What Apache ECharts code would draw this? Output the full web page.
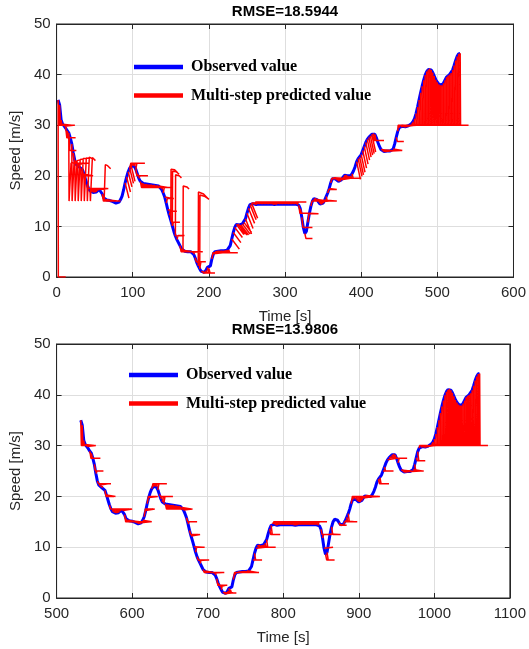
<!DOCTYPE html>
<html><head><meta charset="utf-8">
<script src="https://cdn.jsdelivr.net/npm/echarts@6/dist/echarts.min.js"></script>
<style>html,body{margin:0;padding:0;background:#fff}#c{width:529px;height:649px}</style>
</head><body><div id="c"></div>
<script>
// ---- data ----
const sampleStart = 2, sampleStep = 2; // observed samples every 2 s starting at t = 2 s
const observedSpeed = [
  35.0, 34.0, 31.0, 30.2, 29.8, 29.4, 28.9, 28.5, 27.5, 26.3,
  24.5, 23.0, 22.2, 21.9, 21.7, 21.5, 21.2, 20.3, 19.3, 18.3,
  17.5, 17.0, 16.8, 16.7, 16.7, 16.8, 17.1, 17.3, 17.2, 16.4,
  15.6, 15.3, 15.2, 15.2, 15.1, 15.0, 14.9, 14.8, 14.6, 14.6,
  14.8, 15.3, 16.0, 17.2, 18.6, 19.8, 20.8, 21.5, 21.9, 22.0,
  21.9, 21.3, 20.4, 19.5, 18.9, 18.6, 18.5, 18.4, 18.4, 18.3,
  18.3, 18.3, 18.2, 18.2, 18.1, 18.1, 18.0, 17.8, 17.3, 16.6,
  15.8, 14.6, 13.3, 12.2, 11.2, 10.1, 9.0, 8.1, 7.4, 6.8,
  6.2, 5.6, 5.3, 5.1, 5.0, 5.0, 5.0, 5.0, 4.9, 4.5,
  3.8, 2.9, 2.2, 1.6, 1.1, 0.8, 0.9, 1.3, 1.9, 1.7,
  2.2, 3.6, 4.6, 5.0, 5.1, 5.1, 5.1, 5.2, 5.2, 5.2,
  5.3, 5.3, 5.4, 6.2, 7.5, 8.8, 9.8, 10.4, 10.5, 10.3,
  10.3, 10.5, 10.8, 11.5, 12.6, 13.6, 14.3, 14.6, 14.5, 14.3,
  14.3, 14.4, 14.4, 14.4, 14.4, 14.4, 14.4, 14.4, 14.4, 14.4,
  14.4, 14.3, 14.3, 14.3, 14.4, 14.4, 14.4, 14.4, 14.4, 14.4,
  14.4, 14.4, 14.4, 14.4, 14.4, 14.4, 14.4, 14.3, 14.2, 13.5,
  11.8, 9.8, 8.6, 9.0, 10.8, 12.6, 14.0, 15.0, 15.5, 15.6,
  15.3, 14.8, 14.4, 14.3, 14.6, 15.2, 15.9, 16.6, 17.5, 18.6,
  19.4, 19.6, 19.4, 19.1, 18.9, 18.9, 19.2, 19.7, 20.1, 20.2,
  20.0, 19.9, 20.0, 20.4, 21.0, 21.8, 22.8, 23.4, 23.7, 24.2,
  25.0, 25.8, 26.6, 27.2, 27.6, 27.9, 28.2, 28.4, 28.2, 27.5,
  26.6, 25.8, 25.2, 24.9, 24.8, 24.8, 24.9, 24.9, 24.9, 24.9,
  25.3, 26.3, 27.6, 28.8, 29.5, 29.7, 29.8, 29.7, 29.7, 29.8,
  29.9, 30.0, 30.3, 30.7, 31.3, 32.3, 33.6, 35.0, 36.4, 37.7,
  38.9, 39.9, 40.6, 41.0, 41.2, 40.9, 40.4, 39.7, 39.0, 38.5,
  38.1, 37.9, 37.9, 38.3, 38.9, 39.5, 39.8, 40.0, 40.3, 40.9,
  41.8, 42.8, 43.6, 44.1, 44.2
];
const runOffsets = [0, 530];             // second run is the same route, 530 s later
const rmseTitles = ['RMSE=18.5944', 'RMSE=13.9806'];
const xRanges = [[0, 600], [500, 1100]];
const xInterval = 100;
const yRange = [0, 50];
const yInterval = 10;
const seriesNames = ['Observed value', 'Multi-step predicted value'];

// predicted fans: [first start time, last start time, predicted level, horizon (s), step to level (s)]
const topFlags = [
  [2, 12, 30, 12, 1], [12, 14, 27.5, 11, 1.5], [16, 16, 25, 10, 1.5], [22, 30, 22.5, 13, 1.5],
  [34, 36, 20, 12, 1.5], [40, 56, 17.5, 12, 1.5], [60, 72, 15, 12, 1.5], [96, 104, 22.5, 12, 1.5],
  [104, 108, 20, 12, 1.5], [110, 140, 17.7, 12, 1.5], [142, 144, 15.5, 10, 1.5], [146, 148, 13, 10, 1.5],
  [150, 152, 10.8, 10, 1.5], [156, 158, 8.2, 10, 1.5], [162, 180, 5, 12, 1.5], [182, 188, 3, 8, 1.5],
  [190, 200, 0.8, 8, 1.5], [204, 226, 4.8, 12, 1.5], [256, 316, 14.8, 12, 1.5], [318, 320, 12.6, 12, 1.5],
  [322, 324, 9.8, 12, 1.5], [326, 326, 7.6, 10, 1.5], [330, 332, 12.5, 12, 1.5], [334, 354, 15, 14, 1.5],
  [356, 358, 17.3, 10, 1.5], [360, 388, 19.5, 12, 1.5], [414, 418, 27, 12, 1.5], [426, 442, 25, 12, 1.5],
  [446, 446, 26.8, 10, 1.5], [448, 530, 30, 11, 0.5]
];
const bottomFlags = [
  [532, 540, 30, 12, 0.8], [544, 546, 27.5, 12, 1.5], [550, 552, 25, 10, 1.5], [554, 560, 22.5, 12, 1.5],
  [564, 566, 20, 12, 1.5], [570, 588, 17.5, 12, 1.5], [590, 614, 15, 12, 1.5], [616, 618, 17.5, 12, 1.5],
  [620, 622, 20, 12, 1.5], [626, 634, 22.5, 12, 1.5], [636, 642, 20, 12, 1.5], [644, 668, 17.5, 12, 1.5],
  [672, 674, 15, 12, 1.5], [676, 678, 12.5, 12, 1.5], [682, 684, 10, 12, 1.5], [686, 690, 7.5, 12, 1.5],
  [694, 710, 5, 12, 1.5], [712, 718, 2.5, 8, 1.5], [720, 730, 1, 8, 1.5], [734, 756, 5, 12, 1.5],
  [760, 762, 7.5, 10, 1.5], [764, 778, 10, 12, 1.5], [782, 784, 12.5, 12, 1.5], [786, 846, 15, 12, 1.5],
  [850, 852, 12.5, 12, 1.5], [854, 854, 10, 12, 1.5], [856, 858, 7.5, 10, 1.5], [862, 864, 12.5, 12, 1.5],
  [874, 876, 14.3, 8, 1.5], [880, 886, 15, 12, 1.5], [890, 914, 20, 14, 1.5], [926, 928, 22.5, 12, 1.5],
  [932, 934, 25, 12, 1.5], [938, 952, 27.5, 12, 1.5], [956, 974, 25, 12, 1.5], [976, 978, 27, 10, 1.5],
  [980, 1060, 30, 11, 0.5]
];
// slanted fans: [first start time, last start time, drop (m/s), horizon (s)]
const topSlantFans = [[90, 98, 3, 5], [230, 246, 2, 10], [248, 256, 3, 8], [394, 414, 3.5, 5]];
// individual erratic predictions in the first run: [time, speed] points
const topSpikes = [
  [[2, 35], [2.3, 0], [12, 0]],
  [[16, 28.5], [16.4, 15], [19, 22.5], [24, 22.6]],
  [[20, 26.3], [20.4, 15], [23, 22.8], [28, 22.9]],
  [[24, 23.0], [24.4, 15], [27, 23.0], [32, 23.2]],
  [[28, 21.9], [28.4, 15], [31, 23.2], [36, 23.3]],
  [[32, 21.5], [32.4, 15], [35, 23.4], [40, 23.4]],
  [[36, 20.3], [36.4, 15], [39, 23.5], [44, 23.4]],
  [[40, 18.3], [40.4, 15], [43, 23.7], [48, 23.3]],
  [[44, 17.0], [44.4, 15], [47, 23.6], [51, 23.0]],
  [[62, 15.6], [62.4, 15], [64, 22.2], [67, 22.0], [71, 21.4]],
  [[150, 11.2], [150.3, 21.3], [152, 21.6], [155, 21.2], [159, 20.6]],
  [[152, 10.1], [152.3, 20.9], [154, 21.1], [157, 20.8], [161, 20.3]],
  [[156, 8.1], [156.3, 20.2], [158, 20.4], [161, 20.0], [164, 19.6]],
  [[166, 5.3], [166.3, 18.0], [168, 18.2], [171, 17.8], [174, 17.4]],
  [[186, 2.2], [186.3, 16.8], [188, 17.0], [193, 16.4], [200, 15.3]],
  [[188, 1.6], [188.3, 16.2], [190, 16.4], [195, 15.9], [200, 15.4]]
];

// ---- build ----
function observedPairs(offset) {
  return observedSpeed.map((v, i) => [sampleStart + i * sampleStep + offset, v]);
}
function predictedPairs(offset, flags, slants, spikes) {
  const obs = observedPairs(offset);
  const out = [];
  flags.forEach(([t0, t1, level, horizon, ramp]) => {
    obs.forEach(([t, v]) => {
      if (t >= t0 && t <= t1) {
        out.push([t, v], [t + ramp, level], [t + horizon, level], [null, null]);
      }
    });
  });
  slants.forEach(([t0, t1, drop, horizon]) => {
    obs.forEach(([t, v]) => {
      if (t >= t0 && t <= t1) out.push([t, v], [t + horizon, v - drop], [null, null]);
    });
  });
  spikes.forEach(line => { line.forEach(p => out.push(p)); out.push([null, null]); });
  return out;
}

const chart = echarts.init(document.getElementById('c'), null, {renderer: 'canvas'});
const gridRects = [
  {left: 54, top: 24, width: 461, height: 253},
  {left: 55, top: 344, width: 460, height: 254}
];
const axisColor = '#262626';
const sansFont = 'Liberation Sans, Arial, sans-serif';
const tickFont = {fontFamily: sansFont, fontSize: 15, color: axisColor, formatter: v => String(v)};

const xAxes = [], yAxes = [];
gridRects.forEach((g, k) => {
  xAxes.push({
    gridIndex: k, type: 'value', min: xRanges[k][0], max: xRanges[k][1], interval: xInterval,
    name: 'Time [s]', nameLocation: 'middle', nameGap: 32,
    nameTextStyle: {fontFamily: sansFont, fontSize: 15, color: axisColor},
    axisLine: {show: true, onZero: false, lineStyle: {color: axisColor, width: 1}},
    axisTick: {show: true, inside: true, length: 5, lineStyle: {color: axisColor}},
    axisLabel: Object.assign({margin: 8, showMaxLabel: true, showMinLabel: true}, tickFont),
    splitLine: {show: true, lineStyle: {color: '#dedede', width: 1}}
  });
  yAxes.push({
    gridIndex: k, type: 'value', min: yRange[0], max: yRange[1], interval: yInterval,
    name: 'Speed [m/s]', nameLocation: 'middle', nameGap: 28, nameRotate: 90,
    nameTextStyle: {fontFamily: sansFont, fontSize: 15, color: axisColor},
    axisLine: {show: true, onZero: false, lineStyle: {color: axisColor, width: 1}},
    axisTick: {show: true, inside: true, length: 5, lineStyle: {color: axisColor}},
    axisLabel: Object.assign({margin: 6}, tickFont),
    splitLine: {show: true, lineStyle: {color: '#dedede', width: 1}}
  });
});
gridRects.forEach((g, k) => {
  xAxes.push({
    gridIndex: k, type: 'value', position: 'top', min: xRanges[k][0], max: xRanges[k][1], interval: xInterval,
    axisLine: {show: true, onZero: false, lineStyle: {color: axisColor}},
    axisTick: {show: true, inside: true, length: 5, lineStyle: {color: axisColor}},
    axisLabel: {show: false}, splitLine: {show: false}
  });
  yAxes.push({
    gridIndex: k, type: 'value', position: 'right', min: yRange[0], max: yRange[1], interval: yInterval,
    axisLine: {show: true, onZero: false, lineStyle: {color: axisColor}},
    axisTick: {show: true, inside: true, length: 5, lineStyle: {color: axisColor}},
    axisLabel: {show: false}, splitLine: {show: false}
  });
});

const series = [];
const predictedSets = [
  predictedPairs(runOffsets[0], topFlags, topSlantFans, topSpikes),
  predictedPairs(runOffsets[1], bottomFlags, [], [])
];
gridRects.forEach((g, k) => {
  series.push({
    name: seriesNames[0], type: 'line', xAxisIndex: k, yAxisIndex: k,
    data: observedPairs(runOffsets[k]), symbol: 'none', showSymbol: false,
    lineStyle: {color: '#0000ff', width: 3}, itemStyle: {color: '#0000ff'}, z: 2, animation: false
  });
  series.push({
    name: seriesNames[1], type: 'line', xAxisIndex: k, yAxisIndex: k,
    data: predictedSets[k], symbol: 'none', showSymbol: false, connectNulls: false,
    lineStyle: {color: '#ff0000', width: 1.5}, itemStyle: {color: '#ff0000'}, z: 3, animation: false
  });
});

const legendText = {fontFamily: 'Liberation Serif, Times New Roman, serif', fontWeight: 'bold', fontSize: 16, color: '#000', padding: [0, 0, 0, 3]};
const legends = [
  {left: 134, top: 59},
  {left: 129, top: 367}
].map(p => Object.assign({
  data: seriesNames, orient: 'vertical', icon: 'rect', itemWidth: 49, itemHeight: 4.5, itemGap: 12.5,
  padding: 0, selectedMode: false, textStyle: legendText, itemStyle: {borderWidth: 0}
}, p));

chart.setOption({
  animation: false,
  backgroundColor: '#ffffff',
  grid: gridRects.map(g => Object.assign({show: true, borderColor: axisColor, borderWidth: 1, backgroundColor: '#fff', containLabel: false}, g)),
  xAxis: xAxes,
  yAxis: yAxes,
  legend: legends,
  series: series,
  graphic: rmseTitles.map((t, k) => ({
    type: 'text', x: 285, y: k === 0 ? 12 : 330,
    style: {text: t, textAlign: 'center', textVerticalAlign: 'middle',
      font: 'bold 15px "Liberation Sans", Arial, sans-serif', fill: '#000'}
  }))
});
</script></body></html>
